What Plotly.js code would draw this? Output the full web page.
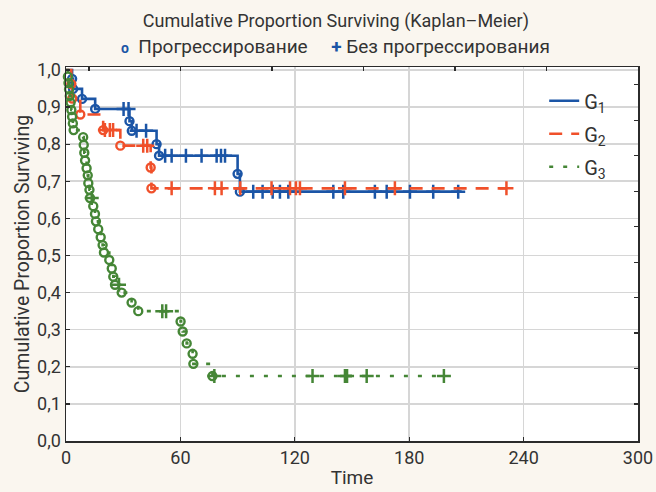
<!DOCTYPE html>
<html>
<head>
<meta charset="utf-8">
<script src="https://cdn.plot.ly/plotly-3.0.1.min.js"></script>
<style>
  html, body { margin: 0; padding: 0; background: #faf6ef; }
  #chart { width: 656px; height: 492px; }
</style>
</head>
<body>
<div id="chart"></div>
<script>
// ---- Data ----
const groupNames = ["G<sub>1</sub>", "G<sub>2</sub>", "G<sub>3</sub>"];
const markerLabels = ["Прогрессирование", "Без прогрессирования"];

// G1: event (progression) times and survival after each event
const g1EventTime = [3.2, 3.7, 8.4, 15.3, 33.3, 34.5, 47.5, 48.8, 90.0, 91.2];
const g1EventSurv = [0.976, 0.949, 0.922, 0.895, 0.862, 0.836, 0.800, 0.769, 0.720, 0.672];
const g1CensTime = [30.2, 32.8, 37.0, 42.0, 52.0, 55.4, 62.9, 71.1, 79.0, 81.3, 83.4,
                    98.2, 103.1, 108.4, 112.2, 116.6, 140.2, 145.4, 162.0, 168.2, 180.4, 192.6, 205.7];
const g1CensSurv = [0.895, 0.895, 0.836, 0.836, 0.769, 0.769, 0.769, 0.769, 0.769, 0.769, 0.769,
                    0.672, 0.672, 0.672, 0.672, 0.672, 0.672, 0.672, 0.672, 0.672, 0.672, 0.672, 0.672];
const g1EndTime = 207.5;

// G2
const g2EventTime = [2.8, 3.3, 7.5, 19.5, 28.5, 44.4, 44.8];
const g2EventSurv = [0.962, 0.923, 0.880, 0.838, 0.796, 0.737, 0.681];
const g2CensTime = [20.4, 23.0, 24.7, 40.5, 42.6, 55.4, 78.1, 81.6, 91.4, 107.8,
                    117.5, 120.6, 122.7, 146.3, 172.5, 231.0];
const g2CensSurv = [0.838, 0.838, 0.838, 0.796, 0.796, 0.681, 0.681, 0.681, 0.681, 0.681,
                    0.681, 0.681, 0.681, 0.681, 0.681, 0.681];
const g2EndTime = 231.0;

// G3
const g3EventTime = [1.0, 1.3, 1.6, 2.0, 2.4, 2.8, 3.2, 3.6, 4.0,
                     9.0, 9.3, 9.6, 10.0, 10.8, 11.4, 11.7, 12.3, 12.6,
                     14.3, 15.2, 15.7, 16.9, 18.2, 19.2, 19.9, 22.7, 24.0, 24.8, 25.7,
                     29.2, 34.4, 37.9, 60.1, 61.2, 63.3, 66.4, 66.8, 76.8];
const g3EventSurv = [0.982, 0.965, 0.948, 0.930, 0.912, 0.892, 0.874, 0.856, 0.838,
                     0.819, 0.798, 0.777, 0.756, 0.735, 0.716, 0.695, 0.677, 0.655,
                     0.633, 0.612, 0.592, 0.571, 0.549, 0.528, 0.508, 0.488, 0.465, 0.443, 0.421,
                     0.400, 0.373, 0.350, 0.322, 0.295, 0.263, 0.235, 0.208, 0.175];
const g3CensTime = [13.5, 27.8, 50.5, 52.5, 77.8, 129.3, 146.3, 147.4, 157.7, 198.2];
const g3CensSurv = [0.655, 0.421, 0.350, 0.350, 0.175, 0.175, 0.175, 0.175, 0.175, 0.175];
const g3EndTime = 198.2;

// ---- Styles ----
const colors = ["#1b55a6", "#f0502a", "#458636"];
const dashes = ["solid", "13px,9px", "4px,10px"];
const FONT = "Roboto, 'Open Sans', sans-serif";
const TXT = "#333333";

const groups = [
  {t: g1EventTime, s: g1EventSurv, ct: g1CensTime, cs: g1CensSurv, end: g1EndTime},
  {t: g2EventTime, s: g2EventSurv, ct: g2CensTime, cs: g2CensSurv, end: g2EndTime},
  {t: g3EventTime, s: g3EventSurv, ct: g3CensTime, cs: g3CensSurv, end: g3EndTime}
];

const traces = [];
groups.forEach((g, i) => {
  const xs = [0].concat(g.t, [g.end]);
  const ys = [1].concat(g.s, [g.s[g.s.length - 1]]);
  traces.push({
    type: "scatter", mode: "lines", x: xs, y: ys,
    line: {shape: "hv", color: colors[i], width: 2.6, dash: dashes[i]},
    name: groupNames[i], legendgroup: "g" + i, showlegend: true, hoverinfo: "skip"
  });
  traces.push({
    type: "scatter", mode: "markers", x: g.t, y: g.s,
    marker: {symbol: "circle-open", size: 8, color: colors[i], line: {width: 2.4, color: colors[i]}},
    showlegend: false, hoverinfo: "skip", cliponaxis: false
  });
  traces.push({
    type: "scatter", mode: "markers", x: g.ct, y: g.cs,
    marker: {symbol: "cross-thin", size: 10, color: colors[i], line: {width: 2.5, color: colors[i]}},
    showlegend: false, hoverinfo: "skip", cliponaxis: false
  });
});
// invisible trace to create the mirrored top/right axes
traces.push({type: "scatter", mode: "markers", x: [null], y: [null], xaxis: "x2", yaxis: "y2",
             showlegend: false, hoverinfo: "skip"});

const axisCommon = {
  showline: true, linecolor: "#2b2b2b", linewidth: 1.5,
  ticks: "inside", ticklen: 4, tickwidth: 1.3, tickcolor: "#2b2b2b",
  zeroline: false
};

const layout = {
  width: 656, height: 492,
  paper_bgcolor: "#faf6ef", plot_bgcolor: "#ffffff",
  separators: ", ",
  font: {family: FONT, color: TXT},
  margin: {l: 66, r: 18, t: 67, b: 51},
  title: {
    text: "Cumulative Proportion Surviving (Kaplan–Meier)",
    font: {family: FONT, size: 18, color: TXT},
    xref: "container", x: 0.512, xanchor: "center",
    yref: "container", y: 0.958, yanchor: "middle"
  },
  xaxis: Object.assign({}, axisCommon, {
    range: [0, 300], tickmode: "linear", tick0: 0, dtick: 60,
    showgrid: true, gridcolor: "#d6d6d6", gridwidth: 1.6,
    tickfont: {size: 18, color: TXT},
    title: {text: "Time", font: {size: 19, color: TXT}, standoff: 3}
  }),
  yaxis: Object.assign({}, axisCommon, {
    range: [0, 1.008], tickmode: "linear", tick0: 0, dtick: 0.1, tickformat: ".1f",
    showgrid: true, gridcolor: "#d6d6d6", gridwidth: 1.6,
    tickfont: {size: 18, color: TXT},
    title: {text: "Cumulative Proportion Surviving", font: {size: 19.5, color: TXT}, standoff: 2}
  }),
  xaxis2: Object.assign({}, axisCommon, {
    overlaying: "x", side: "top", range: [0, 300],
    tickmode: "array", tickvals: [12, 60, 108, 156, 204, 252, 300],
    showticklabels: false, showgrid: false
  }),
  yaxis2: Object.assign({}, axisCommon, {
    overlaying: "y", side: "right", range: [0, 1.008],
    tickmode: "array", tickvals: [0.1, 0.196, 0.291, 0.387, 0.482, 0.578, 0.673, 0.769, 0.864, 0.96],
    showticklabels: false, showgrid: false
  }),
  showlegend: true,
  legend: {
    x: 0.836, y: 0.962, xanchor: "left", yanchor: "top",
    bgcolor: "rgba(0,0,0,0)", font: {family: FONT, size: 20, color: TXT},
    tracegroupgap: 4
  },
  annotations: [{
    xref: "paper", yref: "paper", x: 0.472, y: 1.056,
    xanchor: "center", yanchor: "middle", showarrow: false,
    font: {family: FONT, size: 19, color: TXT},
    text: "<span style='color:" + colors[0] + ";font-size:14px'><b>o</b></span>  " + markerLabels[0] +
          "     <span style='color:" + colors[0] + "'><b>+</b></span> " + markerLabels[1]
  }]
};

Plotly.newPlot("chart", traces, layout, {displayModeBar: false, staticPlot: true});
</script>
</body>
</html>
